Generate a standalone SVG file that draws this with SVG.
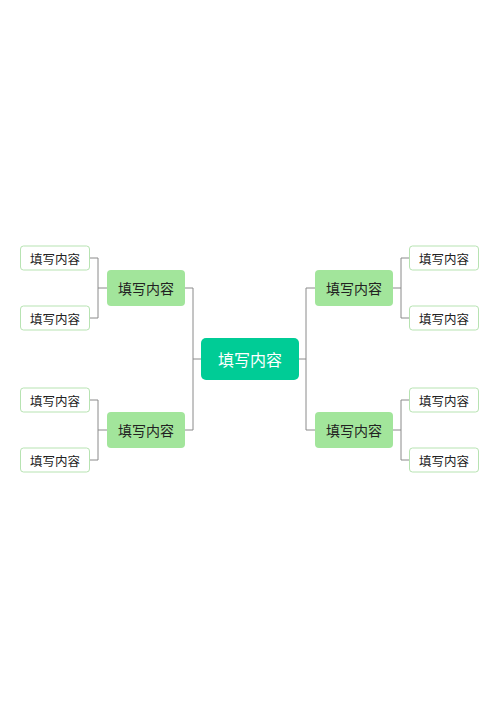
<svg xmlns="http://www.w3.org/2000/svg" width="500" height="707" viewBox="0 0 500 707">
<style>
.leaf rect{fill:#ffffff;stroke:#b7e3b2;stroke-width:1}
.mid rect{fill:#a2e59b}
.root rect{fill:#00cc96}
text{font-family:"Noto Sans CJK SC","Noto Sans",sans-serif;text-anchor:middle;dominant-baseline:central}
.leaf text{font-size:12.5px;fill:#222}
.mid text{font-size:14px;fill:#222}
.root text{font-size:16px;fill:#ffffff}
.conn path{fill:none;stroke:#8a8a8a;stroke-width:1}
</style>
<rect width="500" height="707" fill="#ffffff"/>
<g class="conn">
<path d="M193,288 V430 M185,288 H193 M185,430 H193 M193,359 H201"/>
<path d="M306,288 V430 M315,288 H306 M315,430 H306 M299,359 H306"/>
<path d="M90,258 H98 V318 H90 M98,288 H107"/>
<path d="M90,400 H98 V460 H90 M98,430 H107"/>
<path d="M409,258 H401 V318 H409 M401,288 H392"/>
<path d="M409,400 H401 V460 H409 M401,430 H392"/>
</g>
<g id="root" class="root"><rect x="201" y="338" width="98" height="42" rx="5"/><text x="250" y="359">填写内容</text></g>
<g id="mid-tl" class="mid"><rect x="107" y="270" width="78" height="36" rx="4"/><text x="146" y="288">填写内容</text></g>
<g id="mid-bl" class="mid"><rect x="107" y="412" width="78" height="36" rx="4"/><text x="146" y="430">填写内容</text></g>
<g id="mid-tr" class="mid"><rect x="315" y="270" width="78" height="36" rx="4"/><text x="354" y="288">填写内容</text></g>
<g id="mid-br" class="mid"><rect x="315" y="412" width="78" height="36" rx="4"/><text x="354" y="430">填写内容</text></g>
<g id="leaf-1" class="leaf"><rect x="20.5" y="246" width="69" height="24" rx="3"/><text x="55" y="258">填写内容</text></g>
<g id="leaf-2" class="leaf"><rect x="20.5" y="306" width="69" height="24" rx="3"/><text x="55" y="318">填写内容</text></g>
<g id="leaf-3" class="leaf"><rect x="20.5" y="388" width="69" height="24" rx="3"/><text x="55" y="400">填写内容</text></g>
<g id="leaf-4" class="leaf"><rect x="20.5" y="448" width="69" height="24" rx="3"/><text x="55" y="460">填写内容</text></g>
<g id="leaf-5" class="leaf"><rect x="409.5" y="246" width="69" height="24" rx="3"/><text x="444" y="258">填写内容</text></g>
<g id="leaf-6" class="leaf"><rect x="409.5" y="306" width="69" height="24" rx="3"/><text x="444" y="318">填写内容</text></g>
<g id="leaf-7" class="leaf"><rect x="409.5" y="388" width="69" height="24" rx="3"/><text x="444" y="400">填写内容</text></g>
<g id="leaf-8" class="leaf"><rect x="409.5" y="448" width="69" height="24" rx="3"/><text x="444" y="460">填写内容</text></g>
</svg>
